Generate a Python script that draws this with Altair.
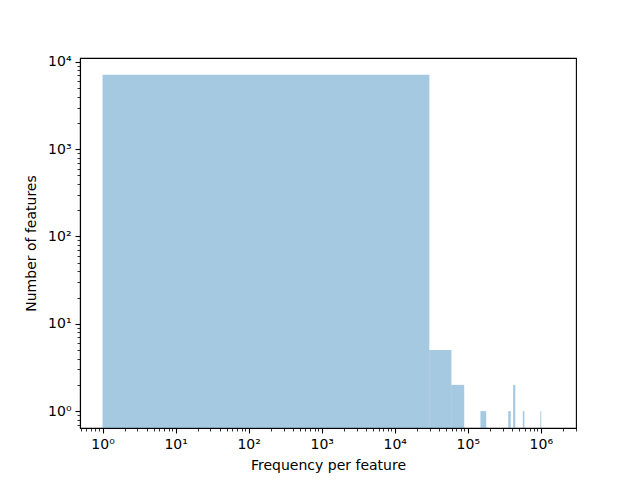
import altair as alt
import pandas as pd

# Histogram bins (linear bins of equal width, drawn on log axes); only non-empty bins
bin_left = [1, 29800, 59600, 149000, 357600, 417200, 566200, 983400]
bin_right = [29800, 59600, 89400, 178800, 387400, 447000, 596000, 1013200]
counts = [7100, 5, 2, 1, 1, 2, 1, 1]

x_major = [1, 10, 100, 1000, 10000, 100000, 1000000]
y_major = [1, 10, 100, 1000, 10000]
x_minor = [m * 10 ** k for k in range(-1, 7) for m in range(2, 10)]
x_minor = [v for v in x_minor if 0.49 <= v <= 3.0e6]
y_minor = [m * 10 ** k for k in range(-1, 4) for m in range(2, 10)]
y_minor = [v for v in y_minor if 0.64 <= v <= 11000]

df = pd.DataFrame({"lo": bin_left, "hi": bin_right, "n": counts})

W, H = 496, 370
FONT = "DejaVu Sans"
sup = "['⁰','¹','²','³','⁴','⁵','⁶','⁷'][round(log(datum.value)/LN10)]"

xscale = alt.Scale(type="log", domain=[0.491, 3.03e6], nice=False)
yscale = alt.Scale(type="log", domain=[0.641, 11070], nice=False)

major = alt.Chart(df).mark_bar(color="#1f77b4", opacity=0.4, stroke=None).encode(
    x=alt.X("lo:Q", scale=xscale, title="Frequency per feature",
            axis=alt.Axis(values=x_major, orient="bottom", labelExpr="'10' + " + sup,
                          tickSize=5, tickWidth=1.1, labelPadding=4, grid=False,
                          labelFont=FONT, labelFontSize=14, titleFont=FONT,
                          titleFontSize=14, titleFontWeight="normal", titlePadding=7,
                          labelColor="black", titleColor="black", tickColor="black",
                          domainColor="black", domainWidth=1.1, labelFlush=False)),
    x2="hi:Q",
    y=alt.Y("n:Q", scale=yscale, title="Number of features",
            axis=alt.Axis(values=y_major, orient="left", labelExpr="'10' + " + sup,
                          tickSize=5, tickWidth=1.1, labelPadding=4, grid=False,
                          labelFont=FONT, labelFontSize=14, titleFont=FONT,
                          titleFontSize=14, titleFontWeight="normal", titlePadding=9,
                          labelColor="black", titleColor="black", tickColor="black",
                          domainColor="black", domainWidth=1.1, labelFlush=False)),
    y2=alt.value(H),
)

minor = alt.Chart(df).mark_bar(opacity=0).encode(
    x=alt.X("lo:Q", scale=xscale, title=None,
            axis=alt.Axis(values=x_minor, orient="bottom", labels=False, domain=False,
                          tickSize=3, tickWidth=0.8, tickColor="black", grid=False)),
    x2="hi:Q",
    y=alt.Y("n:Q", scale=yscale, title=None,
            axis=alt.Axis(values=y_minor, orient="left", labels=False, domain=False,
                          tickSize=3, tickWidth=0.8, tickColor="black", grid=False)),
    y2=alt.value(H),
)

chart = (
    alt.layer(major, minor)
    .resolve_axis(x="independent", y="independent")
    .properties(width=W, height=H, autosize=alt.AutoSizeParams(type="none"),
                padding={"left": 72, "top": 50, "right": 56, "bottom": 45},
                background="white")
    .configure_view(stroke="black", strokeWidth=1.1)
)

chart.save("out.html", embed_options={"renderer": "svg", "actions": False})
